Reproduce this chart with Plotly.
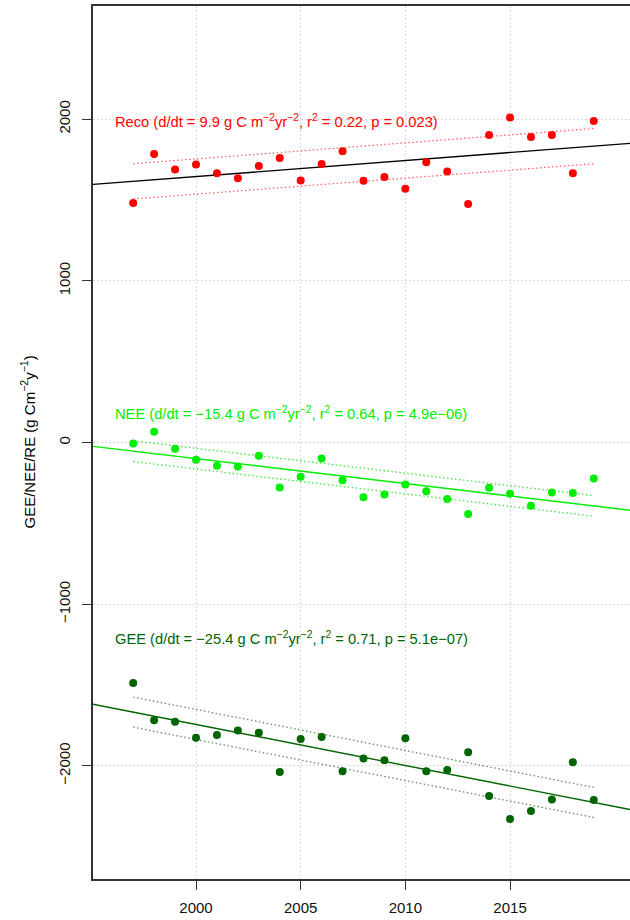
import numpy as np
import plotly.graph_objects as go

# Annual fluxes, g C m-2 yr-1
years = list(range(1997, 2020))
reco = [1481, 1785, 1688, 1720, 1665, 1634, 1710, 1760, 1621, 1723, 1801, 1619,
        1642, 1570, 1733, 1677, 1475, 1902, 2011, 1890, 1902, 1665, 1989]
nee = [-6, 66, -39, -107, -144, -148, -82, -278, -212, -99, -233, -338,
       -322, -260, -301, -350, -443, -280, -317, -392, -309, -313, -223]
gee = [-1487, -1718, -1728, -1827, -1809, -1782, -1795, -2038, -1834, -1821, -2033, -1955,
       -1965, -1829, -2033, -2025, -1916, -2186, -2329, -2279, -2209, -1978, -2211]

# Trend statistics shown in the labels
slopes = {"Reco": 9.9, "NEE": -15.4, "GEE": -25.4}
r2 = {"Reco": "0.22", "NEE": "0.64", "GEE": "0.71"}
pvals = {"Reco": "0.023", "NEE": "4.9e−06", "GEE": "5.1e−07"}
band_halfwidth = {"Reco": 109, "NEE": 64, "GEE": 93}
label_y = {"Reco": 1990, "NEE": 185, "GEE": -1212}

XMIN, XMAX = 1995.08, 2020.73
YMIN, YMAX = -2700, 2700

series = [
    ("Reco", reco, "#ff0000", "#000000", "rgba(255,60,60,0.8)"),
    ("NEE", nee, "#00ee00", "#00ee00", "rgba(0,220,0,0.75)"),
    ("GEE", gee, "#006400", "#006400", "rgba(60,110,60,0.8)"),
]

FONT = "Liberation Sans, Arial, Helvetica, sans-serif"
DOTS = "1.5px,2.5px"
fig = go.Figure()
yr = np.array(years, dtype=float)
xm = yr.mean()

for name, vals, col, linecol, bandcol in series:
    v = np.array(vals, dtype=float)
    b = slopes[name]
    a = v.mean() - b * xm
    # full-width trend line
    xl = np.array([XMIN, XMAX])
    fig.add_trace(go.Scatter(x=xl, y=a + b * xl, mode="lines",
                             line=dict(color=linecol, width=1.4),
                             showlegend=False, hoverinfo="skip"))
    # bounds over the observed years
    xb = np.array([yr[0], yr[-1]])
    for s in (1, -1):
        fig.add_trace(go.Scatter(x=xb, y=a + b * xb + s * band_halfwidth[name],
                                 mode="lines",
                                 line=dict(color=bandcol, width=1.3, dash=DOTS),
                                 showlegend=False, hoverinfo="skip"))
    fig.add_trace(go.Scatter(x=years, y=vals, mode="markers",
                             marker=dict(color=col, size=8, line=dict(width=0)),
                             name=name, showlegend=False))
    txt = (f"{name} (d/dt = {str(b).replace('-', '−')} g C m<sup>−2</sup>yr<sup>−2</sup>, "
           f"r<sup>2</sup> = {r2[name]}, p = {pvals[name]})")
    fig.add_annotation(x=0.037, xref="paper", y=label_y[name], yref="y",
                       text=txt, showarrow=False, xanchor="left", yanchor="middle",
                       font=dict(family=FONT, size=14.7, color=col))

# y-axis title, centred on the plot height
fig.add_annotation(x=0, xref="paper", xanchor="center", xshift=28 - 93,
                   y=0.5, yref="paper",
                   text="GEE/NEE/RE (g Cm<sup>−2</sup>y<sup>−1</sup>)",
                   showarrow=False, textangle=-90,
                   font=dict(family=FONT, size=15, color="#000"))

axis_common = dict(
    showgrid=True, gridcolor="#d8d8d8", griddash=DOTS, gridwidth=1,
    showline=True, linecolor="#333", linewidth=1.5,
    ticks="outside", ticklen=9, tickcolor="#333", tickwidth=1.2,
    zeroline=False, tickfont=dict(family=FONT, size=15, color="#111"),
)

fig.update_layout(
    width=630, height=920,
    margin=dict(l=93, r=0, t=6, b=41),
    paper_bgcolor="white", plot_bgcolor="white",
    font=dict(family=FONT, size=14, color="#000"),
    xaxis=dict(range=[XMIN, XMAX], tickvals=[2000, 2005, 2010, 2015],
               mirror=True, ticklabelstandoff=5, **axis_common),
    yaxis=dict(range=[YMIN, YMAX], tickvals=[-2000, -1000, 0, 1000, 2000],
               mirror=False, tickangle=-90, ticklabelstandoff=6, **axis_common),
)

fig.write_html("out.html")
